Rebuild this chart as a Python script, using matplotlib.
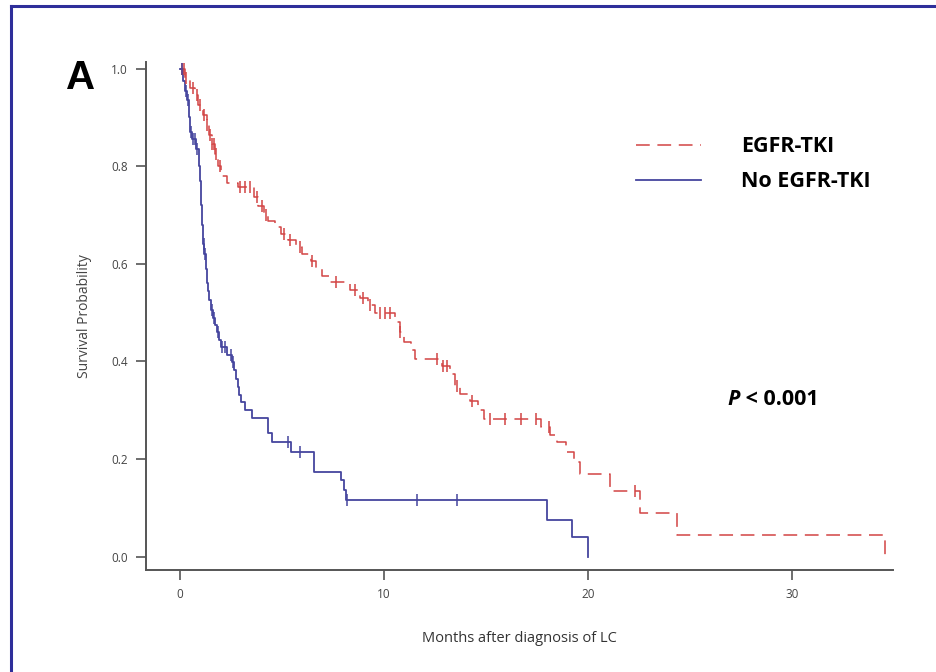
import numpy as np
import matplotlib
matplotlib.use("Agg")
import matplotlib.pyplot as plt
from matplotlib.lines import Line2D

# ======== data ========
# EGFR-TKI group: step times (months) and survival after each step
tki_time = [0.0, 0.25, 0.5, 0.75, 0.9, 1.1, 1.3, 1.4, 1.55, 1.7, 1.85, 2.0, 2.3,
            2.85, 3.6, 3.8, 4.1, 4.3, 4.65, 4.95, 5.3, 5.7, 6.0, 6.4, 6.65,
            6.95, 7.35, 8.35, 8.8, 9.2, 9.55, 10.55, 10.8, 11.0, 11.3, 11.5,
            12.85, 13.25, 13.5, 13.7, 14.2, 14.6, 14.9, 17.7, 18.15, 18.5,
            18.9, 19.3, 19.6, 21.1, 22.55, 24.35, 34.55]
tki_surv = [1.0, 0.98, 0.96, 0.945, 0.925, 0.905, 0.885, 0.865, 0.845, 0.825,
            0.80, 0.78, 0.765, 0.758, 0.738, 0.718, 0.70, 0.688, 0.675, 0.662,
            0.648, 0.635, 0.62, 0.605, 0.59, 0.575, 0.562, 0.547, 0.53, 0.515,
            0.50, 0.48, 0.46, 0.44, 0.423, 0.405, 0.39, 0.375, 0.35, 0.333,
            0.318, 0.30, 0.282, 0.265, 0.25, 0.235, 0.215, 0.195, 0.17, 0.135,
            0.09, 0.045, 0.0]
tki_censor = [0.1, 0.2, 0.3, 0.65, 0.85, 1.0, 1.15, 1.3, 1.45, 1.55, 1.65,
              1.75, 1.95, 2.95, 3.2, 3.45, 3.75, 4.0, 4.2, 5.1, 5.4, 5.9,
              6.45, 7.65, 8.6, 8.95, 9.3, 9.8, 10.05, 10.3, 10.8, 12.6, 12.9,
              13.1, 13.6, 14.3, 15.2, 15.95, 16.7, 17.45, 18.1, 22.3]

# No EGFR-TKI group
no_time = [0.0, 0.15, 0.25, 0.35, 0.45, 0.5, 0.6, 0.8, 0.93, 0.98, 1.03, 1.08,
           1.13, 1.18, 1.27, 1.32, 1.37, 1.42, 1.52, 1.62, 1.72, 1.81, 1.91,
           2.0, 2.3, 2.55, 2.65, 2.75, 2.85, 2.9, 3.0, 3.2, 3.55, 4.3, 4.5,
           5.45, 6.55, 7.9, 8.05, 8.15, 18.0, 19.2, 20.0]
no_surv = [1.0, 0.975, 0.955, 0.935, 0.90, 0.87, 0.855, 0.835, 0.80, 0.77, 0.72,
           0.68, 0.64, 0.62, 0.59, 0.56, 0.545, 0.525, 0.505, 0.49, 0.475,
           0.46, 0.445, 0.43, 0.414, 0.398, 0.383, 0.365, 0.348, 0.332, 0.316,
           0.30, 0.284, 0.254, 0.234, 0.215, 0.174, 0.158, 0.137, 0.117, 0.076,
           0.041, 0.0]
no_censor = [0.1, 0.3, 0.4, 0.55, 0.65, 0.75, 0.85, 1.15, 1.22, 1.55, 1.65,
             1.85, 2.05, 2.2, 2.5, 2.6, 5.3, 5.9, 8.2, 11.6, 13.6]

x_ticks = [0, 10, 20, 30]
y_ticks = [0.0, 0.2, 0.4, 0.6, 0.8, 1.0]

red = "#d24444"
blue = "#45459e"
grey = "#555555"


def surv_at(times, surv, t):
    idx = np.searchsorted(times, t, side="right") - 1
    return np.asarray(surv)[idx]


fig = plt.figure(figsize=(9.36, 6.72), dpi=100)
ax = fig.add_axes([0.156, 0.152, 0.798, 0.756])

# curves
ax.plot(tki_time, tki_surv, drawstyle="steps-post", color=red, lw=1.1,
        linestyle=(0, (9, 5)))
ax.plot(no_time, no_surv, drawstyle="steps-post", color=blue, lw=1.3)

# censor marks
ax.plot(tki_censor, surv_at(tki_time, tki_surv, tki_censor), ls="none",
        marker="|", ms=8, mew=1.1, color=red)
ax.plot(no_censor, surv_at(no_time, no_surv, no_censor), ls="none",
        marker="|", ms=8, mew=1.1, color=blue)

ax.set_xlim(-1.67, 34.95)
ax.set_ylim(-0.027, 1.014)
ax.set_xticks(x_ticks)
ax.set_yticks(y_ticks)
ax.set_yticklabels([f"{v:.1f}" for v in y_ticks])

for s in ["top", "right"]:
    ax.spines[s].set_visible(False)
for s in ["left", "bottom"]:
    ax.spines[s].set_color(grey)
    ax.spines[s].set_linewidth(1.4)
ax.tick_params(colors=grey, labelcolor="#444444", length=7, width=1.2,
               labelsize=8.5, pad=6)
for lab in ax.get_xticklabels() + ax.get_yticklabels():
    lab.set_family("Open Sans")

ax.set_ylabel("Survival Probability", fontsize=10, color="#444444",
              family="Open Sans", labelpad=14)
ax.set_xlabel("Months after diagnosis of LC", fontsize=10.5, color="#333333",
              family="Open Sans", labelpad=22)

# legend
handles = [Line2D([], [], color=red, lw=1.1, linestyle=(0, (9, 5))),
           Line2D([], [], color=blue, lw=1.3)]
leg = ax.legend(handles, ["EGFR-TKI", "No EGFR-TKI"], frameon=False,
                loc="upper left", bbox_to_anchor=(0.63, 0.892),
                handlelength=3.0, handletextpad=1.9, labelspacing=0.65,
                prop={"family": "Open Sans", "weight": "bold", "size": 15.5})

# p-value
t1 = fig.text(0.777, 0.405, "P", fontsize=15.5, weight="bold", style="italic",
              family="Open Sans", va="center")
ax.annotate(" < 0.001", xy=(1, 0), xycoords=t1, va="bottom", fontsize=15.5,
            weight="bold", family="Open Sans")

# panel letter
fig.text(0.071, 0.884, "A", fontsize=29, weight="bold",
         family="Liberation Sans", va="center")

# blue frame (top and left edges visible)
fig.add_artist(Line2D([0.012, 1.0], [0.991, 0.991], color="#2e2e9a", lw=2.2,
                      transform=fig.transFigure))
fig.add_artist(Line2D([0.012, 0.012], [0.0, 0.991], color="#2e2e9a", lw=2.2,
                      transform=fig.transFigure))

fig.savefig("out.png", dpi=100)
plt.close(fig)
